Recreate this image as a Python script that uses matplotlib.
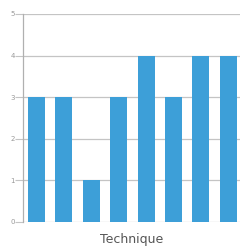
import numpy as np
import matplotlib
matplotlib.use("Agg")
import matplotlib.pyplot as plt

# values (right edge of the chart is cropped)
categories = ["t1", "t2", "t3", "t4", "t5", "t6", "t7", "t8"]
values = [3, 3, 1, 3, 4, 3, 4, 4]
yticks = [0, 1, 2, 3, 4, 5]

BAR = "#3d9fd8"
GRID = "#c4c4c4"

fig = plt.figure(figsize=(2.4, 2.52), dpi=100)
ax = fig.add_axes([23 / 240, 30 / 252, 1 - 23 / 240, 208 / 252])

x = np.arange(len(categories))
ax.bar(x, values, width=0.62, color=BAR, zorder=3)

ax.set_ylim(0, 5)
ax.set_xlim(-0.493, 7.43)
ax.set_yticks(yticks)
ax.set_yticklabels([str(t) for t in yticks])
ax.set_xticks([])
ax.yaxis.grid(True, color=GRID, lw=0.9, zorder=0)
ax.tick_params(axis="y", length=6, width=0.8, color=GRID, labelsize=5,
               labelcolor="#999999", pad=0)
for side in ["top", "right", "bottom"]:
    ax.spines[side].set_visible(False)
ax.spines["left"].set_color("#b0b0b0")
ax.spines["left"].set_linewidth(0.9)

ax.set_xlabel("Technique", fontsize=9, color="#555555", labelpad=8)

fig.savefig("out.png", dpi=100)
